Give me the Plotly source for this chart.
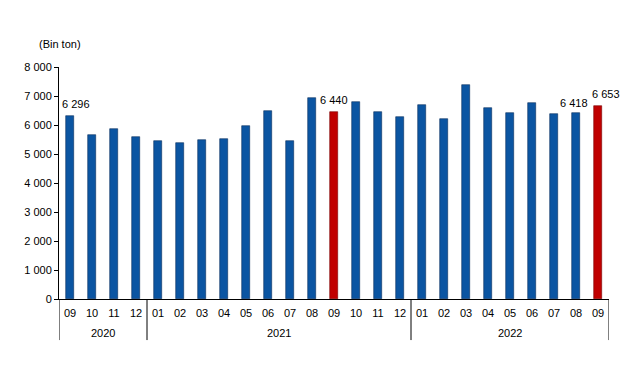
import plotly.graph_objects as go

years = ["2020"] * 4 + ["2021"] * 12 + ["2022"] * 9
months = ["09", "10", "11", "12",
          "01", "02", "03", "04", "05", "06", "07", "08", "09", "10", "11", "12",
          "01", "02", "03", "04", "05", "06", "07", "08", "09"]
values = [6296, 5640, 5850, 5600,
          5460, 5370, 5500, 5530, 5950, 6490, 5460, 6940, 6440, 6800, 6460, 6290,
          6680, 6220, 7370, 6600, 6410, 6750, 6370, 6418, 6653]
labels = ["6 296", "", "", "",
          "", "", "", "", "", "", "", "", "6 440", "", "", "",
          "", "", "", "", "", "", "", "6 418", "6 653"]
highlight = [False] * 12 + [True] + [False] * 11 + [True]

blue = "#0B55A2"
red = "#C00000"
colors = [red if h else blue for h in highlight]
edges = ["#7a0000" if h else "#0a2f5e" for h in highlight]
idx = list(range(len(months)))

# label nudges (pixels), styling only
label_xshift = {0: 6, 12: 0, 23: -2, 24: 8}
label_yshift = {0: 4, 12: 4, 23: 2, 24: 4}

fig = go.Figure(go.Bar(
    x=idx,
    y=values,
    marker=dict(color=colors, line=dict(color=edges, width=0.6)),
    width=0.38,
    hoverinfo="x+y",
))

for i, (v, t) in enumerate(zip(values, labels)):
    if t:
        fig.add_annotation(x=i, y=v, text=t, xref="x", yref="y",
                           yanchor="bottom", yshift=label_yshift.get(i, 4),
                           xshift=label_xshift.get(i, 0), showarrow=False,
                           font=dict(family="Arial, Liberation Sans", size=11, color="#000000"))

# year groups: dividers and centred labels derived from the year list
groups = []
start = 0
for i in range(1, len(years) + 1):
    if i == len(years) or years[i] != years[start]:
        groups.append((years[start], start, i - 1))
        start = i

div_bottom = -0.177
for yr, a, b in groups:
    fig.add_shape(type="line", xref="x", yref="paper",
                  x0=a - 0.5, x1=a - 0.5, y0=0, y1=div_bottom,
                  line=dict(color="#000000", width=1))
    fig.add_annotation(text=yr, xref="x", yref="paper",
                       x=(a + b) / 2, y=-0.147, yanchor="middle",
                       showarrow=False, font=dict(size=11))
last = groups[-1][2]
fig.add_shape(type="line", xref="x", yref="paper",
              x0=last + 0.5, x1=last + 0.5, y0=0, y1=div_bottom,
              line=dict(color="#000000", width=1))

fig.update_layout(
    width=641, height=380,
    margin=dict(l=51, r=40, t=59, b=89, autoexpand=False),
    plot_bgcolor="white", paper_bgcolor="white",
    separators=", ",
    showlegend=False,
    font=dict(family="Arial, Liberation Sans", size=11, color="#000000"),
    bargap=0,
)
fig.update_yaxes(
    range=[0, 8000], dtick=1000, tickformat=",d",
    showgrid=False, showline=True, linecolor="#000000", linewidth=1,
    ticks="outside", ticklen=4, tickcolor="#000000",
    zeroline=False, automargin=False,
)
fig.update_xaxes(
    range=[-0.5, len(months) - 0.5],
    tickmode="array", tickvals=idx, ticktext=months,
    showline=True, linecolor="#000000", linewidth=1,
    showgrid=False, ticks="outside", ticklen=4, tickcolor="rgba(0,0,0,0)",
    tickfont=dict(size=11), automargin=False, zeroline=False,
)
fig.add_annotation(
    text="(Bin ton)", xref="paper", yref="paper",
    x=-0.04, y=1.099, xanchor="left", yanchor="middle",
    showarrow=False, font=dict(size=11),
)

fig.write_html("out.html")
